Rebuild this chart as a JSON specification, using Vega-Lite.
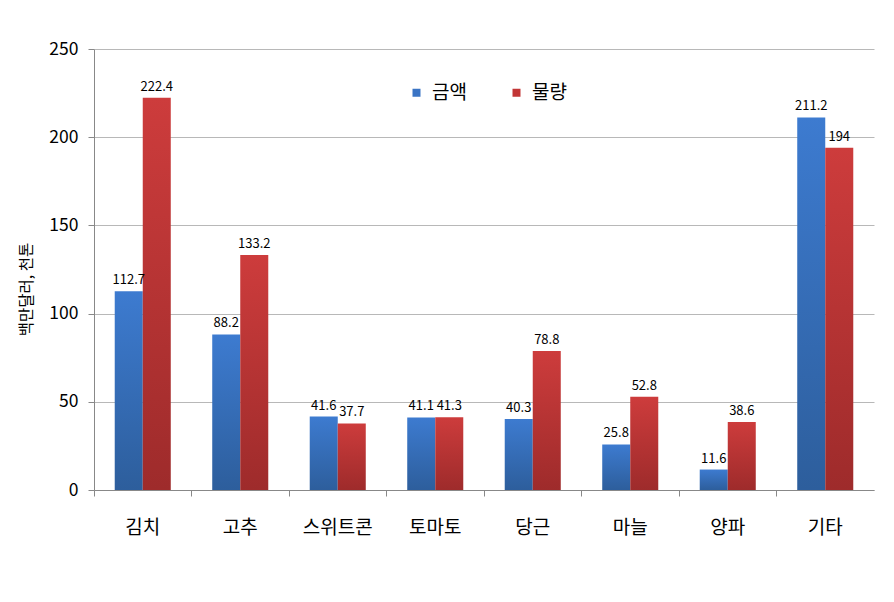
{
  "$schema": "https://vega.github.io/schema/vega-lite/v6.json",
  "autosize": {"type": "none"},
  "padding": {"left": 94, "top": 49, "right": 20, "bottom": 112},
  "width": 780,
  "height": 441,
  "background": "white",
  "config": {
    "font": "Noto Sans CJK KR",
    "view": {"stroke": null}
  },
  "data": {
    "values": [
      {"cat": "김치", "series": "금액", "value": 112.7},
      {"cat": "김치", "series": "물량", "value": 222.4},
      {"cat": "고추", "series": "금액", "value": 88.2},
      {"cat": "고추", "series": "물량", "value": 133.2},
      {"cat": "스위트콘", "series": "금액", "value": 41.6},
      {"cat": "스위트콘", "series": "물량", "value": 37.7},
      {"cat": "토마토", "series": "금액", "value": 41.1},
      {"cat": "토마토", "series": "물량", "value": 41.3},
      {"cat": "당근", "series": "금액", "value": 40.3},
      {"cat": "당근", "series": "물량", "value": 78.8},
      {"cat": "마늘", "series": "금액", "value": 25.8},
      {"cat": "마늘", "series": "물량", "value": 52.8},
      {"cat": "양파", "series": "금액", "value": 11.6},
      {"cat": "양파", "series": "물량", "value": 38.6},
      {"cat": "기타", "series": "금액", "value": 211.2},
      {"cat": "기타", "series": "물량", "value": 194}
    ]
  },
  "encoding": {
    "x": {
      "field": "cat",
      "type": "nominal",
      "sort": null,
      "scale": {"paddingInner": 0, "paddingOuter": 0},
      "axis": {
        "title": null,
        "labelAngle": 0,
        "labelFontSize": 19,
        "labelColor": "#000",
        "labelPadding": 22,
        "bandPosition": 0,
        "tickSize": 6,
        "tickColor": "#888",
        "domainColor": "#888",
        "grid": false
      }
    },
    "xOffset": {
      "field": "series",
      "type": "nominal",
      "scale": {"domain": ["금액", "물량"], "paddingInner": 0, "paddingOuter": 0.74}
    },
    "y": {
      "field": "value",
      "type": "quantitative",
      "scale": {"domain": [0, 250]},
      "axis": {
        "title": "백만달러, 천톤",
        "titleFontSize": 15.5,
        "titleFontWeight": "normal",
        "titleColor": "#000",
        "titleY": 240,
        "titleX": -60,
        "values": [0, 50, 100, 150, 200, 250],
        "labelFontSize": 17.5,
        "labelColor": "#000",
        "labelPadding": 10,
        "tickSize": 6,
        "tickColor": "#888",
        "domainColor": "#888",
        "gridColor": "#b8b8b8"
      }
    }
  },
  "layer": [
    {
      "transform": [{"filter": "datum.series === '금액'"}],
      "mark": {
        "type": "bar",
        "fill": {
          "gradient": "linear",
          "x1": 0, "y1": 0, "x2": 0, "y2": 1,
          "stops": [
            {"offset": 0, "color": "#3d7bd0"},
            {"offset": 1, "color": "#2d5e9c"}
          ]
        }
      }
    },
    {
      "transform": [{"filter": "datum.series === '물량'"}],
      "mark": {
        "type": "bar",
        "fill": {
          "gradient": "linear",
          "x1": 0, "y1": 0, "x2": 0, "y2": 1,
          "stops": [
            {"offset": 0, "color": "#cd3c3c"},
            {"offset": 1, "color": "#9e2b2b"}
          ]
        }
      }
    },
    {
      "mark": {"type": "text", "baseline": "bottom", "dy": -4, "fontSize": 13, "color": "#000"},
      "encoding": {
        "text": {"field": "value", "type": "quantitative"}
      }
    },
    {
      "mark": {"type": "point", "shape": "square", "opacity": 0, "filled": true},
      "encoding": {
        "color": {
          "field": "series",
          "type": "nominal",
          "scale": {"domain": ["금액", "물량"], "range": ["#3a74c4", "#c23636"]},
          "legend": {
            "title": null,
            "orient": "none",
            "direction": "horizontal",
            "legendX": 313,
            "legendY": 34,
            "symbolType": "square",
            "symbolSize": 64,
            "symbolOpacity": 1,
            "symbolStrokeWidth": 0,
            "labelFontSize": 19,
            "labelColor": "#000",
            "labelOffset": 6,
            "columnPadding": 40
          }
        }
      }
    }
  ]
}
